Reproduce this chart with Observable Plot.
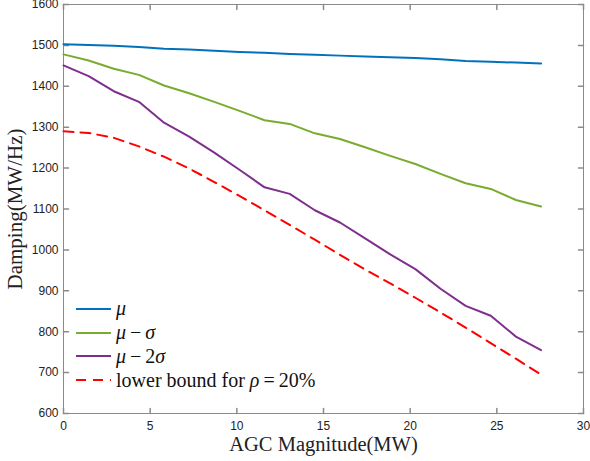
<!DOCTYPE html>
<html>
<head>
<meta charset="utf-8">
<script src="https://cdn.jsdelivr.net/npm/d3@7"></script>
<script src="https://cdn.jsdelivr.net/npm/@observablehq/plot@0.6"></script>
<style>
  html, body { margin: 0; padding: 0; background: #fff; }
  #wrap { position: relative; width: 590px; height: 461px; }
  #legend { position: absolute; left: 76px; top: 297px; font-family: "Liberation Serif", "DejaVu Serif", serif; font-size: 20px; color: #111; }
  .row { display: flex; align-items: center; height: 23.8px; white-space: nowrap; }
  .row svg { margin-right: 4px; }
  .m { font-style: italic; }
  .op { margin: 0 4px; }
</style>
</head>
<body>
<div id="wrap"><div id="chart"></div><div id="legend"></div></div>
<script>
const agc = [0, 1.45, 2.9, 4.35, 5.8, 7.25, 8.7, 10.15, 11.6, 13.05, 14.5, 15.95, 17.4, 18.85, 20.3, 21.75, 23.2, 24.65, 26.1, 27.55];
const mu = [1503, 1501, 1499, 1496, 1492, 1490, 1487, 1484, 1482, 1479, 1477, 1475, 1473, 1471, 1469, 1466, 1462, 1460, 1458, 1456];
const muMinusSigma = [1478, 1463, 1443, 1428, 1402, 1383, 1362, 1340, 1317, 1308, 1285, 1271, 1251, 1230, 1210, 1186, 1163, 1149, 1122, 1106];
const muMinus2Sigma = [1451, 1425, 1388, 1362, 1311, 1277, 1238, 1196, 1153, 1137, 1097, 1067, 1028, 989, 953, 905, 863, 839, 788, 755];
const lowerBound = [1290, 1286, 1274, 1253, 1228, 1199, 1166, 1132, 1097, 1061, 1025, 988, 952, 918, 883, 847, 810, 772, 734, 695];
const xTicks = [0, 5, 10, 15, 20, 25, 30];
const yTicks = [600, 700, 800, 900, 1000, 1100, 1200, 1300, 1400, 1500, 1600];

const seriesNames = ["mu", "mu-sigma", "mu-2sigma", "lower"];
const seriesColors = ["#0072BD", "#77AC30", "#7E2F8E", "#FF0000"];
const seriesValues = [mu, muMinusSigma, muMinus2Sigma, lowerBound];

const rows = [];
seriesNames.forEach((s, i) => agc.forEach((x, j) => rows.push({series: s, x, y: seriesValues[i][j]})));

const tickShape = {draw(context, l) { context.moveTo(0, 0); context.lineTo(0, -l); }};
const axisColor = "#8a8a8a";

const chart = Plot.plot({
  width: 590,
  height: 461,
  marginLeft: 63,
  marginRight: 7,
  marginTop: 4,
  marginBottom: 48,
  style: {fontFamily: "Liberation Sans, Arial, sans-serif", fontSize: "12px", color: "#222", background: "#fff"},
  x: {domain: [0, 30], ticks: xTicks, tickSize: 0, tickPadding: 8, label: null, tickFormat: d3.format("d")},
  y: {domain: [600, 1600], ticks: yTicks, tickSize: 0, tickPadding: 5, label: null, tickFormat: d3.format("d")},
  marks: [
    Plot.frame({stroke: axisColor}),
    Plot.vector(xTicks, {x: d => d, frameAnchor: "bottom", rotate: 0, length: 5, anchor: "start", shape: tickShape, stroke: axisColor}),
    Plot.vector(xTicks, {x: d => d, frameAnchor: "top", rotate: 180, length: 5, anchor: "start", shape: tickShape, stroke: axisColor}),
    Plot.vector(yTicks, {y: d => d, frameAnchor: "left", rotate: 90, length: 5, anchor: "start", shape: tickShape, stroke: axisColor}),
    Plot.vector(yTicks, {y: d => d, frameAnchor: "right", rotate: -90, length: 5, anchor: "start", shape: tickShape, stroke: axisColor}),
    ...seriesNames.map((s, i) => Plot.line(rows.filter(r => r.series === s), {
      x: "x", y: "y", stroke: seriesColors[i], strokeWidth: 2,
      strokeDasharray: s === "lower" ? "10,7" : null
    })),
    Plot.text(["AGC Magnitude(MW)"], {frameAnchor: "bottom", dy: 31, lineAnchor: "middle", textAnchor: "middle", fontFamily: "Liberation Serif, serif", fontSize: 20.5, fill: "#222"}),
    Plot.text(["Damping(MW/Hz)"], {frameAnchor: "left", dx: -48, rotate: -90, lineAnchor: "middle", textAnchor: "middle", fontFamily: "Liberation Serif, serif", fontSize: 21, fill: "#222"})
  ]
});
document.getElementById("chart").appendChild(chart);

const labels = [
  '<span class="m">μ</span>',
  '<span class="m">μ</span><span class="op">−</span><span class="m">σ</span>',
  '<span class="m">μ</span><span class="op">−</span>2<span class="m">σ</span>',
  'lower bound for <span class="m">ρ</span><span class="op">=</span>20%'
];
const legend = document.getElementById("legend");
seriesNames.forEach((s, i) => {
  const row = document.createElement("div");
  row.className = "row";
  row.innerHTML = `<svg width="36" height="6"><line x1="0" x2="35" y1="3" y2="3" stroke="${seriesColors[i]}" stroke-width="2" ${s === "lower" ? 'stroke-dasharray="10,7"' : ""}/></svg><span>${labels[i]}</span>`;
  legend.appendChild(row);
});
</script>
</body>
</html>
